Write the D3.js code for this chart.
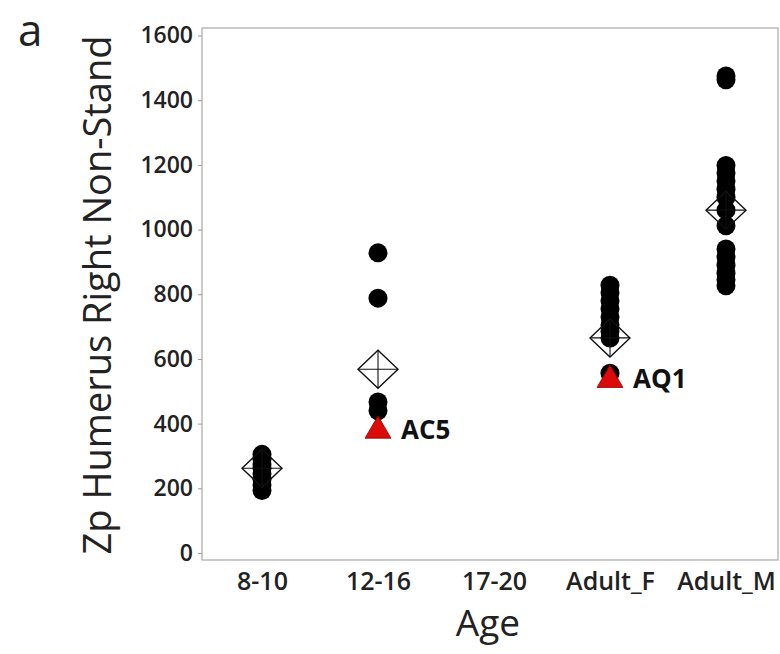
<!DOCTYPE html>
<html><head><meta charset="utf-8">
<script src="https://cdn.jsdelivr.net/npm/d3@7"></script>
<style>
html,body{margin:0;padding:0;background:#fff;}
svg{display:block;}
text{font-family:"Open Sans","DejaVu Sans",sans-serif;}
</style></head>
<body>
<svg id="chart" width="780" height="654"></svg>
<script>
const categories = ["8-10","12-16","17-20","Adult_F","Adult_M"];
const yTicks = [0,200,400,600,800,1000,1200,1400,1600];
const values_8_10 = [305,290,275,262,245,228,210,193];
const values_12_16 = [928,788,467,440];
const values_17_20 = [];
const values_Adult_F = [828,805,780,755,730,705,685,665,556];
const values_Adult_M = [1475,1463,1198,1175,1150,1125,1100,1060,1012,940,915,890,865,845,826];
const groupMeans = [262,568,null,665,1060];
const flaggedCats = ["12-16","Adult_F"];
const flaggedValues = [378,535];
const flaggedLabels = ["AC5","AQ1"];
const panelLabel = "a";
const xTitle = "Age";
const yTitle = "Zp Humerus Right Non-Stand";

const groups = [values_8_10, values_12_16, values_17_20, values_Adult_F, values_Adult_M];
const points = [];
groups.forEach((arr,i)=>arr.forEach(v=>points.push({cat:categories[i], v})));
const means = categories.map((c,i)=>({cat:c, v:groupMeans[i]})).filter(d=>d.v!=null);
const flagged = flaggedCats.map((c,i)=>({cat:c, v:flaggedValues[i], label:flaggedLabels[i]}));

const svg = d3.select("#chart");
const frame = {left:202, right:778, top:28, bottom:560};
const x = d3.scalePoint().domain(categories).range([262,726]);
const y = d3.scaleLinear().domain([0,1600]).range([553,35.5]);

// frame
svg.append("rect").attr("x",frame.left).attr("y",frame.top)
  .attr("width",frame.right-frame.left).attr("height",frame.bottom-frame.top)
  .attr("fill","none").attr("stroke","#a8a8a8").attr("stroke-width",1.2);

// y axis
const yAxis = svg.append("g").attr("transform",`translate(${frame.left},0)`)
  .call(d3.axisLeft(y).tickValues(yTicks).tickSize(4).tickPadding(5).tickFormat(d3.format("d")));
yAxis.select(".domain").remove();
yAxis.selectAll("line").attr("stroke","#999");
yAxis.selectAll("text").attr("font-size",23).attr("font-weight",600).attr("fill","#222")
  .attr("font-family","'Open Sans',sans-serif");

// x axis
const xAxis = svg.append("g").attr("transform",`translate(0,${frame.bottom})`)
  .call(d3.axisBottom(x).tickSize(0).tickPadding(12));
xAxis.select(".domain").remove();
xAxis.selectAll("text").attr("font-size",25).attr("font-weight",600).attr("fill","#222")
  .attr("font-family","'Open Sans',sans-serif");

// titles
svg.append("text").attr("x",(frame.left+frame.right)/2-2).attr("y",636)
  .attr("text-anchor","middle").attr("font-size",37).attr("font-weight",500).attr("fill","#222").text(xTitle);
svg.append("text").attr("transform",`translate(111,${(frame.top+frame.bottom)/2+1}) rotate(-90)`)
  .attr("text-anchor","middle").attr("font-size",38).attr("font-weight",500).attr("fill","#222").text(yTitle);
svg.append("text").attr("x",18).attr("y",46).attr("font-size",44).attr("fill","#222").text(panelLabel);

// dots
svg.append("g").selectAll("circle").data(points).join("circle")
  .attr("cx",d=>x(d.cat)).attr("cy",d=>y(d.v)).attr("r",9.5).attr("fill","#000");

// flagged triangles
const tri = d3.symbol().type(d3.symbolTriangle).size(290);
svg.append("g").selectAll("path").data(flagged).join("path")
  .attr("transform",d=>`translate(${x(d.cat)},${y(d.v)})`).attr("d",tri)
  .attr("fill","#dd0a0a").attr("stroke","#8a0000").attr("stroke-width",0.8);
svg.append("g").selectAll("text").data(flagged).join("text")
  .attr("x",d=>x(d.cat)+23).attr("y",d=>y(d.v)+8)
  .attr("font-family","'Liberation Sans',Arial,sans-serif")
  .attr("font-size",26).attr("font-weight",700).attr("fill","#111").text(d=>d.label);

// means: circled-cross diamond
const mg = svg.append("g").selectAll("g").data(means).join("g")
  .attr("transform",d=>`translate(${x(d.cat)},${y(d.v)})`);
mg.append("path").attr("d","M0,-19L20,0L0,19L-20,0Z").attr("fill","none")
  .attr("stroke","#111").attr("stroke-width",1.4);
mg.append("path").attr("d","M-20,0H20M0,-19V19").attr("stroke","#111").attr("stroke-width",1.1);
</script>
</body></html>
